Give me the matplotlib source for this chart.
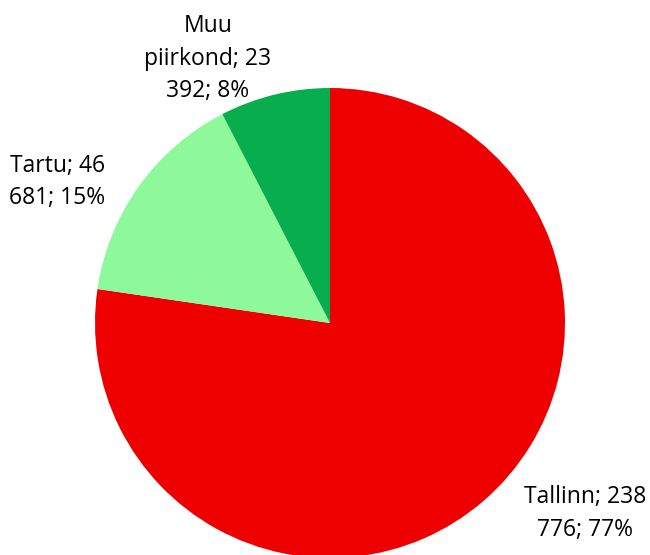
import matplotlib
matplotlib.use("Agg")
import matplotlib.pyplot as plt

categories = ["Tallinn", "Tartu", "Muu\npiirkond"]
values = [238776, 46681, 23392]
colors = ["#EE0000", "#8EF99A", "#08AD4E"]
label_texts = ["Tallinn; 238\n776; 77%", "Tartu; 46\n681; 15%", "Muu\npiirkond; 23\n392; 8%"]
label_pos = [(1.085, -0.81), (-1.16, 0.60), (-0.52, 1.125)]

fig = plt.figure(figsize=(6.5, 5.55), dpi=100)
ax = fig.add_axes([0, 0, 1, 1])
ax.pie(values, colors=colors, startangle=90, counterclock=False, radius=1.0,
       center=(0, 0), wedgeprops=dict(linewidth=0))
ax.set_xlim(-330/235, 320/235)
ax.set_ylim(-232/235, 323/235)
ax.set_aspect("auto")
ax.axis("off")
for txt, (x, y) in zip(label_texts, label_pos):
    ax.text(x, y, txt, ha="center", va="center", fontsize=16.5,
            family="Open Sans", linespacing=1.47, color="#000000")
fig.savefig("out.png", dpi=100)
